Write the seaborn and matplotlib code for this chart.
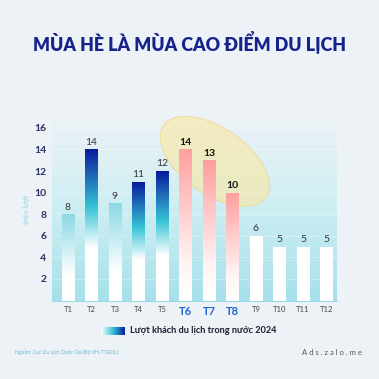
import numpy as np
import pandas as pd
import seaborn as sns
import matplotlib.pyplot as plt
from matplotlib.patches import Ellipse
from matplotlib.colors import LinearSegmentedColormap

# data
months = ['T1', 'T2', 'T3', 'T4', 'T5', 'T6', 'T7', 'T8', 'T9', 'T10', 'T11', 'T12']
visitors = [8, 14, 9, 11, 12, 14, 13, 10, 6, 5, 5, 5]
peak_months = ['T6', 'T7', 'T8']
dark_months = ['T2', 'T4', 'T5']
light_months = ['T1', 'T3']

title = 'MÙA HÈ LÀ MÙA CAO ĐIỂM DU LỊCH'
legend_label = 'Lượt khách du lịch trong nước 2024'
source = 'Nguồn: Cục Du Lịch Quốc Gia (Bộ VH-TT&DL)'

df = pd.DataFrame({'month': months, 'visitors': visitors})

sns.set_theme(style='white')
plt.rcParams['font.family'] = ['Lato', 'DejaVu Sans']

fig = plt.figure(figsize=(3.79, 3.79), dpi=100)
fig.patch.set_facecolor('#edf2f6')
ax = fig.add_axes([0.137, 0.207, 0.751, 0.484])
ax.set_facecolor('none')

sns.barplot(data=df, x='month', y='visitors', color='white', width=0.53, ax=ax, zorder=3)

ax.set_xlim(-0.68, 11.43)
ax.set_ylim(0, 17)

# cyan panel behind bars
panel = LinearSegmentedColormap.from_list('panel', ['#9fdfe9', '#c9eef3', '#edf2f6'])
grad = np.linspace(0, 1, 256).reshape(-1, 1)
ax.imshow(grad, cmap=panel, aspect='auto', extent=(-0.68, 11.43, 0, 17),
          origin='lower', zorder=0, alpha=0.9)

cmap_dark = LinearSegmentedColormap.from_list('dark', [(0, '#ffffff'), (0.35, '#ffffff'), (0.62, '#35c3d6'), (1, '#0a1b9c')])
cmap_light = LinearSegmentedColormap.from_list('light', [(0, '#ffffff'), (0.3, '#ffffff'), (1, '#8ad8e4')])
cmap_peak = LinearSegmentedColormap.from_list('peak', [(0, '#ffffff'), (0.25, '#fff4f4'), (1, '#ff9f9f')])
cmap_white = LinearSegmentedColormap.from_list('white', ['#ffffff', '#ffffff'])

for patch, m, v in zip(ax.patches, months, visitors):
    if m in dark_months:
        cm = cmap_dark
    elif m in light_months:
        cm = cmap_light
    elif m in peak_months:
        cm = cmap_peak
    else:
        cm = cmap_white
    x0 = patch.get_x()
    w = patch.get_width()
    patch.set_facecolor('none')
    patch.set_edgecolor('none')
    im = ax.imshow(grad, cmap=cm, aspect='auto', extent=(x0, x0 + w, 0, v),
                   origin='lower', zorder=3)
    im.set_clip_path(patch)
    if m in peak_months:
        ax.text(x0 + w / 2, v + 0.25, str(v), ha='center', va='bottom',
                fontsize=7.5, fontweight='bold', color='#111111', zorder=5)
    else:
        ax.text(x0 + w / 2, v + 0.25, str(v), ha='center', va='bottom',
                fontsize=7.5, color='#333333', zorder=5)

ax.set_xlim(-0.68, 11.43)
ax.set_ylim(0, 17)

# faint grid
ax.set_yticks(range(2, 17, 2))
for y in range(2, 17, 2):
    ax.axhline(y, color='white', lw=0.6, alpha=0.35, zorder=1)

ax.tick_params(axis='both', length=0, pad=4)
for lab in ax.get_yticklabels():
    lab.set_fontsize(7.5)
    lab.set_fontweight('bold')
    lab.set_color('#2d3163')
for lab in ax.get_xticklabels():
    if lab.get_text() in peak_months:
        lab.set_fontsize(8)
        lab.set_fontweight('bold')
        lab.set_color('#2463d6')
    else:
        lab.set_fontsize(5.5)
        lab.set_color('#444444')

ax.set_xlabel('')
ax.set_ylabel('triệu lượt', fontsize=5, color='#8fd6e2', labelpad=3)
for s in ['top', 'right', 'left']:
    ax.spines[s].set_visible(False)
ax.spines['bottom'].set_color('#9adbe6')
ax.spines['bottom'].set_linewidth(0.8)

# highlight ellipse around summer peak, behind the bars
fig.canvas.draw()
peak_idx = [months.index(m) for m in peak_months]
cx, cy = ax.transData.transform((np.mean(peak_idx) + 0.25, 12.9))
cx, cy = fig.transFigure.inverted().transform((cx, cy))
ell = Ellipse((cx, cy), 0.33, 0.175, angle=-35, transform=fig.transFigure,
              facecolor='#fbe7a0', edgecolor='#f0d27a', lw=0.8, alpha=0.6,
              zorder=2, clip_on=False)
ax.add_artist(ell)

fig.text(0.5, 0.888, title, ha='center', va='center', fontsize=12.8,
         fontweight='heavy', color='#16238a')

# legend with gradient swatch
lax = fig.add_axes([0.266, 0.116, 0.062, 0.022])
lax.imshow(np.linspace(0, 1, 256).reshape(1, -1),
           cmap=LinearSegmentedColormap.from_list('leg', ['#ffffff', '#35c3d6', '#0a1b9c']),
           aspect='auto')
lax.axis('off')
fig.text(0.343, 0.127, legend_label, ha='left', va='center', fontsize=6.6,
         fontweight='bold', color='#1b1b2e')

fig.text(0.04, 0.071, source, ha='left', va='center', fontsize=3.6, color='#5fb7cf')
fig.text(0.955, 0.071, ' '.join('Ads.zalo.me'), ha='right', va='center',
         fontsize=5.5, color='#555555')

fig.savefig('out.png', dpi=100, facecolor=fig.get_facecolor())
